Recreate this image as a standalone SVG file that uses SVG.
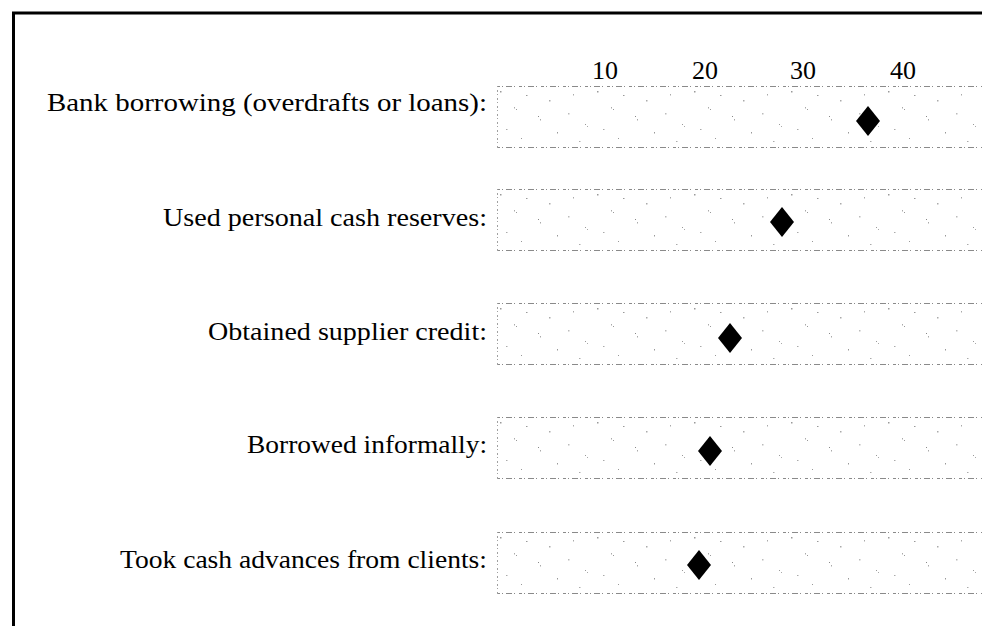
<svg xmlns="http://www.w3.org/2000/svg" width="982" height="626" viewBox="0 0 982 626">
  <style>
    .lbl { font-family: "Liberation Serif", "DejaVu Serif", serif; font-size: 25px; fill: #000; }
    .tick { font-family: "Liberation Serif", "DejaVu Serif", serif; font-size: 26px; fill: #000; text-anchor: middle; }
    .edge { stroke: #8a8a8a; stroke-width: 1.2; stroke-dasharray: 3 2 1 3 6 2 1 4; fill: none; }
    .side { stroke: #a0a0a0; stroke-width: 1; stroke-dasharray: 1 3 2 2; fill: none; }
    .mark { fill: #000; }
  </style>
  <defs>
    <!-- sparse grey speckle used as the bar fill -->
    <pattern id="speckle" width="97" height="61" patternUnits="userSpaceOnUse">
      <rect x="3" y="5" width="1.5" height="1.5" fill="#999"/>
      <rect x="17" y="21" width="1" height="1.5" fill="#aaa"/>
      <rect x="19" y="23" width="1" height="1" fill="#999"/>
      <rect x="29" y="9" width="1.5" height="1" fill="#999"/>
      <rect x="41" y="30" width="1" height="1" fill="#888"/>
      <rect x="43" y="33" width="1" height="1.5" fill="#aaa"/>
      <rect x="52" y="14" width="1.5" height="1.5" fill="#aaa"/>
      <rect x="60" y="46" width="1" height="1.5" fill="#999"/>
      <rect x="9" y="43" width="1.5" height="1" fill="#aaa"/>
      <rect x="24" y="52" width="1" height="1" fill="#999"/>
      <rect x="76" y="8" width="1" height="1.5" fill="#aaa"/>
      <rect x="71" y="27" width="1.5" height="1.5" fill="#bbb"/>
      <rect x="88" y="38" width="1" height="1" fill="#999"/>
      <rect x="90" y="40" width="1" height="1" fill="#aaa"/>
      <rect x="82" y="55" width="1.5" height="1" fill="#aaa"/>
    </pattern>
    <g id="bar">
      <rect x="0" y="0" width="500" height="62" fill="url(#speckle)"/>
      <line class="edge" x1="0" y1="0.5" x2="500" y2="0.5"/>
      <line class="edge" x1="0" y1="61.5" x2="500" y2="61.5"/>
      <line class="side" x1="0.5" y1="0" x2="0.5" y2="62"/>
    </g>
    <polygon id="diamond" points="0,-15 12,0 0,15 -12,0"/>
  </defs>

  <rect x="0" y="0" width="982" height="626" fill="#fff"/>

  <!-- frame -->
  <g id="frame" stroke="#000" stroke-width="3">
    <line x1="12" y1="13" x2="982" y2="13"/>
    <line x1="13.5" y1="12" x2="13.5" y2="626"/>
  </g>

  <!-- scale -->
  <g id="scale">
    <text class="tick" x="605" y="79">10</text>
    <text class="tick" x="705" y="79">20</text>
    <text class="tick" x="803" y="79">30</text>
    <text class="tick" x="903" y="79">40</text>
  </g>

  <g id="row-bank">
    <text class="lbl" x="487" y="111" text-anchor="end" textLength="440" lengthAdjust="spacingAndGlyphs">Bank borrowing (overdrafts or loans):</text>
    <use href="#bar" x="497" y="86"/>
    <use href="#diamond" class="mark" x="868" y="121"/>
  </g>

  <g id="row-personal">
    <text class="lbl" x="487" y="226" text-anchor="end" textLength="324" lengthAdjust="spacingAndGlyphs">Used personal cash reserves:</text>
    <use href="#bar" x="497" y="189"/>
    <use href="#diamond" class="mark" x="782" y="222"/>
  </g>

  <g id="row-supplier">
    <text class="lbl" x="487" y="340" text-anchor="end" textLength="279" lengthAdjust="spacingAndGlyphs">Obtained supplier credit:</text>
    <use href="#bar" x="497" y="303"/>
    <use href="#diamond" class="mark" x="730" y="338"/>
  </g>

  <g id="row-informal">
    <text class="lbl" x="487" y="453" text-anchor="end" textLength="240" lengthAdjust="spacingAndGlyphs">Borrowed informally:</text>
    <use href="#bar" x="497" y="417"/>
    <use href="#diamond" class="mark" x="710" y="451"/>
  </g>

  <g id="row-advances">
    <text class="lbl" x="487" y="568" text-anchor="end" textLength="367" lengthAdjust="spacingAndGlyphs">Took cash advances from clients:</text>
    <use href="#bar" x="497" y="532"/>
    <use href="#diamond" class="mark" x="699" y="565"/>
  </g>
</svg>
